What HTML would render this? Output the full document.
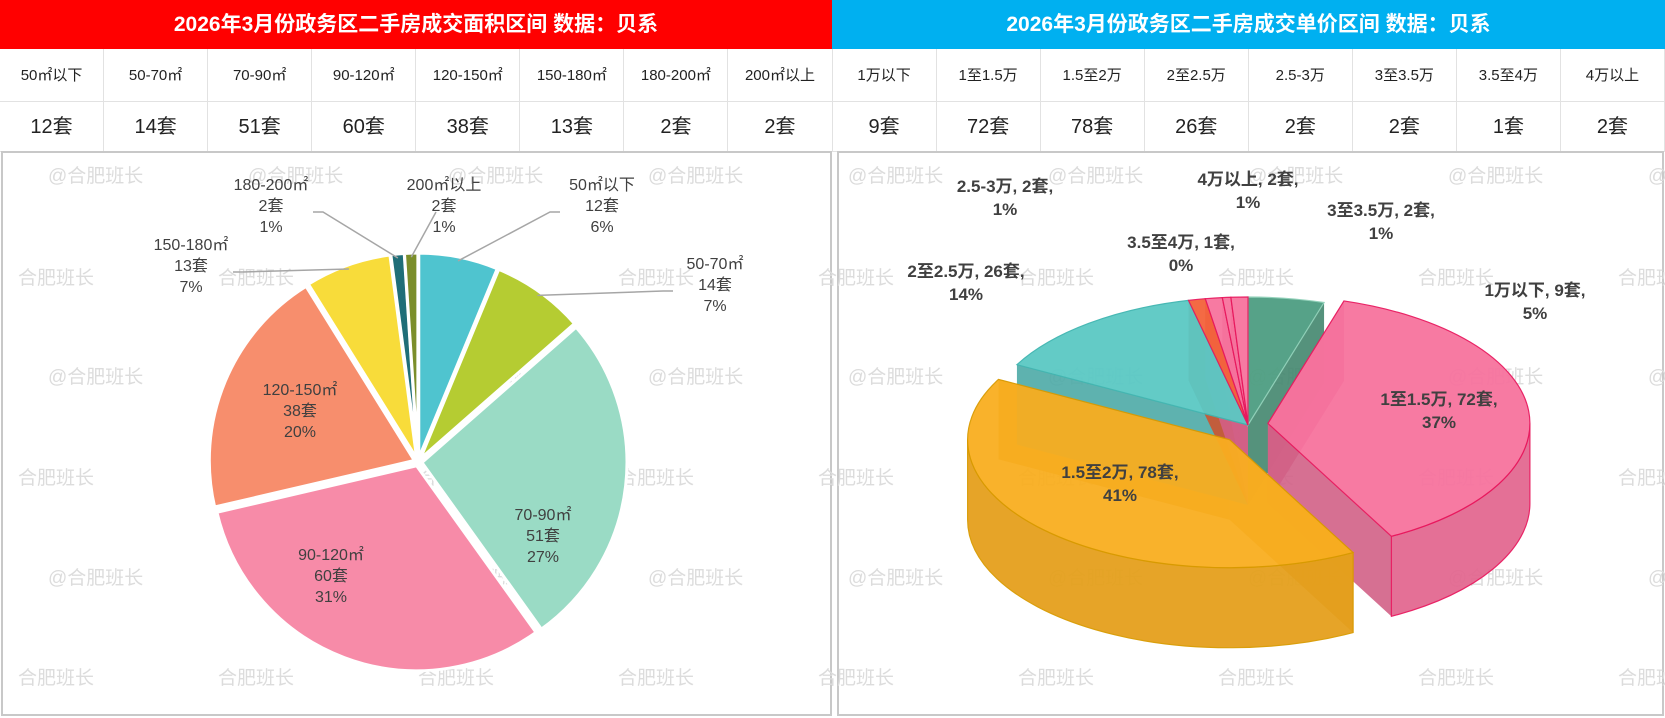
<!DOCTYPE html>
<html><head><meta charset="utf-8">
<style>
html,body{margin:0;padding:0;background:#fff;width:1665px;height:718px;overflow:hidden;font-family:"Liberation Sans","Noto Sans CJK SC",sans-serif;}
#root{position:relative;width:1665px;height:718px;}
.hdr{position:absolute;top:0;height:49px;color:#fff;font-weight:bold;font-size:21px;line-height:49px;text-align:center;}
.cell{position:absolute;box-sizing:border-box;border-right:1px solid #e2e2e2;border-bottom:1px solid #e2e2e2;text-align:center;color:#222;}
.panel{position:absolute;top:151px;height:565px;box-sizing:border-box;border:2px solid #c8c8c8;}
svg{position:absolute;left:0;top:0;}
</style></head><body>
<div id="root">
<div class="hdr" style="left:0;width:832px;background:#ff0000">2026年3月份政务区二手房成交面积区间 数据：贝系</div>
<div class="hdr" style="left:832px;width:833px;background:#00b0f0">2026年3月份政务区二手房成交单价区间 数据：贝系</div>
<div id="table"></div>
<div class="panel" style="left:1px;width:831px"></div>
<div class="panel" style="left:837px;width:827px"></div>
<svg id="chart" width="1665" height="718"></svg>
</div>
<script>
const areaCats=["50㎡以下","50-70㎡","70-90㎡","90-120㎡","120-150㎡","150-180㎡","180-200㎡","200㎡以上"];
const areaVals=[12,14,51,60,38,13,2,2];
const priceCats=["1万以下","1至1.5万","1.5至2万","2至2.5万","2.5-3万","3至3.5万","3.5至4万","4万以上"];
const priceVals=[9,72,78,26,2,2,1,2];
// styling / layout (not data)
const areaColors=["#4fc4cf","#b5cc32","#9adbc5","#f78ba8","#f78e6d","#f8dc3a","#1f6e78","#7b8e2a"];
const areaLabelAt=[[602,190],[715,269],[543,520],[331,560],[300,395],[191,250],[271,190],[444,190]];
const priceColors=["#4e9e82","#f7739e","#f9ae20","#5bc9c4","#f4633a","#f7739e","#f7739e","#f7739e"];
const priceStroke=["#8fd0b8","#e8195e","#d99a00","#3fb5b0","#e8195e","#e8195e","#e8195e","#e8195e"];
const priceLabelAt=[[1535,296],[1439,405],[1120,478],[966,277],[1005,192],[1381,216],[1181,248],[1248,185]];
const NS="http://www.w3.org/2000/svg";
const svg=document.getElementById('chart');
function mk(tag,attrs,parent){const e=document.createElementNS(NS,tag);for(const k in attrs)e.setAttribute(k,attrs[k]);(parent||svg).appendChild(e);return e;}
function pcts(vals){const t=vals.reduce((a,b)=>a+b,0);const raw=vals.map(v=>v/t*100);const fl=raw.map(Math.floor);
  let rem=100-fl.reduce((a,b)=>a+b,0);const ord=raw.map((r,i)=>[r-fl[i],i]).sort((a,b)=>b[0]-a[0]);
  for(let k=0;k<rem;k++)fl[ord[k][1]]++;return fl;}
// table
const table=document.getElementById('table');
const allCats=areaCats.concat(priceCats), allVals=areaVals.concat(priceVals);
const cw=1665/16;
allCats.forEach((c,i)=>{
  const d=document.createElement('div');d.className='cell';
  d.style.cssText=`left:${i*cw}px;top:49px;width:${cw}px;height:53px;line-height:53px;font-size:15px;`;
  d.textContent=c;
  
  
  table.appendChild(d);
  const v=document.createElement('div');v.className='cell';
  v.style.cssText=`left:${i*cw}px;top:102px;width:${cw}px;height:50px;line-height:50px;font-size:20px;`;
  v.textContent=allVals[i]+'套';
  
  
  table.appendChild(v);
});
// watermarks
const wm=mk('g',{fill:'#dcdcdc','font-size':'19'});


for(let r=0;r<3;r++){for(let k=0;k<9;k++){
  const t=mk('text',{x:48+k*200,y:182+r*201},wm);t.textContent='@合肥班长';
  const t2=mk('text',{x:18+k*200,y:284+r*200},wm);t2.textContent='合肥班长';
}}
// left pie
(function(){
  const cx=418,cy=462,R=205;
  const tot=areaVals.reduce((a,b)=>a+b,0);
  const pc=pcts(areaVals);
  let cum=0;
  const g=mk('g',{});
  
  
  areaVals.forEach((v,i)=>{
    const a1=cum/tot*2*Math.PI, a2=(cum+v)/tot*2*Math.PI; cum+=v;
    const m=(a1+a2)/2, ex=4;
    const ox=ex*Math.sin(m), oy=-ex*Math.cos(m);
    const p=a=>[cx+ox+R*Math.sin(a), cy+oy-R*Math.cos(a)];
    const [x1,y1]=p(a1),[x2,y2]=p(a2);
    const path=mk('path',{d:`M${cx+ox},${cy+oy}L${x1},${y1}A${R},${R} 0 ${a2-a1>Math.PI?1:0} 1 ${x2},${y2}Z`,fill:areaColors[i],stroke:'#fff','stroke-width':3},g);
    
    
    const [lx,ly]=areaLabelAt[i];
    if(v/tot<0.1){
      const ax=cx+R*Math.sin(m),ay=cy-R*Math.cos(m);
      const s=ax<lx?-1:1;
      const ex2=Math.abs(lx-ax)>100?lx+s*52:lx+s*8;
      const ln=mk('polyline',{points:`${ax},${ay} ${ex2},${ly+22} ${ex2+ (Math.abs(lx-ax)>100?-s*10:0)},${ly+22}`,fill:'none',stroke:'#a6a6a6','stroke-width':1.5},g);
      
      
    }
    const t=mk('text',{x:lx,y:ly,'text-anchor':'middle','font-size':'16',fill:'#404040'},g);
    
    
    [areaCats[i],v+'套',pc[i]+'%'].forEach((s,j)=>{const ts=mk('tspan',{x:lx,dy:j?21:0},t);ts.textContent=s;});
  });
})();
// right 3D pie
(function(){
  const cx=1248,cy=425,rx=262,ry=128,D=80;
  const tot=priceVals.reduce((a,b)=>a+b,0);
  const pc=pcts(priceVals);
  const explode=[0,20,26,0,0,0,0,0];
  function dark(h,f){const n=parseInt(h.slice(1),16);const r=(n>>16)*f|0,g=((n>>8)&255)*f|0,b=(n&255)*f|0;return `rgb(${r},${g},${b})`;}
  const g=mk('g',{});
  
  
  const sides=mk('g',{},g),tops=mk('g',{},g),labs=mk('g',{},g);
  let cum=0;
  priceVals.forEach((v,i)=>{
    const a1=cum/tot*2*Math.PI,a2=(cum+v)/tot*2*Math.PI;cum+=v;
    const m=(a1+a2)/2;
    const ox=explode[i]*Math.sin(m),oy=-explode[i]*Math.cos(m)*0.8;
    const P=(a,d)=>[cx+ox+rx*Math.sin(a),cy+oy-ry*Math.cos(a)+(d||0)];
    const C=[cx+ox,cy+oy];
    [a1,a2].forEach(a=>{const [x,y]=P(a);
      const f=mk('path',{d:`M${C[0]},${C[1]}L${x},${y}L${x},${y+D}L${C[0]},${C[1]+D}Z`,fill:dark(priceColors[i],0.85),opacity:0.9},sides);
      
      });
    const s1=Math.max(a1,Math.PI/2),s2=Math.min(a2,1.5*Math.PI);
    if(s2>s1){const [x1,y1]=P(s1),[x2,y2]=P(s2);
      const w=mk('path',{d:`M${x1},${y1}A${rx},${ry} 0 0 1 ${x2},${y2}L${x2},${y2+D}A${rx},${ry} 0 0 0 ${x1},${y1+D}Z`,fill:dark(priceColors[i],0.92),stroke:priceStroke[i],'stroke-width':1.2,opacity:0.95},sides);
      
      }
    const [x1,y1]=P(a1),[x2,y2]=P(a2);
    const top=mk('path',{d:`M${C[0]},${C[1]}L${x1},${y1}A${rx},${ry} 0 ${a2-a1>Math.PI?1:0} 1 ${x2},${y2}Z`,fill:priceColors[i],stroke:priceStroke[i],'stroke-width':1.2,opacity:0.95},tops);
    
    
    const [lx,ly]=priceLabelAt[i];
    const t=mk('text',{x:lx,y:ly,'text-anchor':'middle','font-size':'17','font-weight':'bold',fill:'#404040'},labs);
    
    
    [priceCats[i]+', '+v+'套,',pc[i]+'%'].forEach((s,j)=>{const ts=mk('tspan',{x:lx,dy:j?23:0},t);ts.textContent=s;});
  });
})();
</script>
</body></html>
